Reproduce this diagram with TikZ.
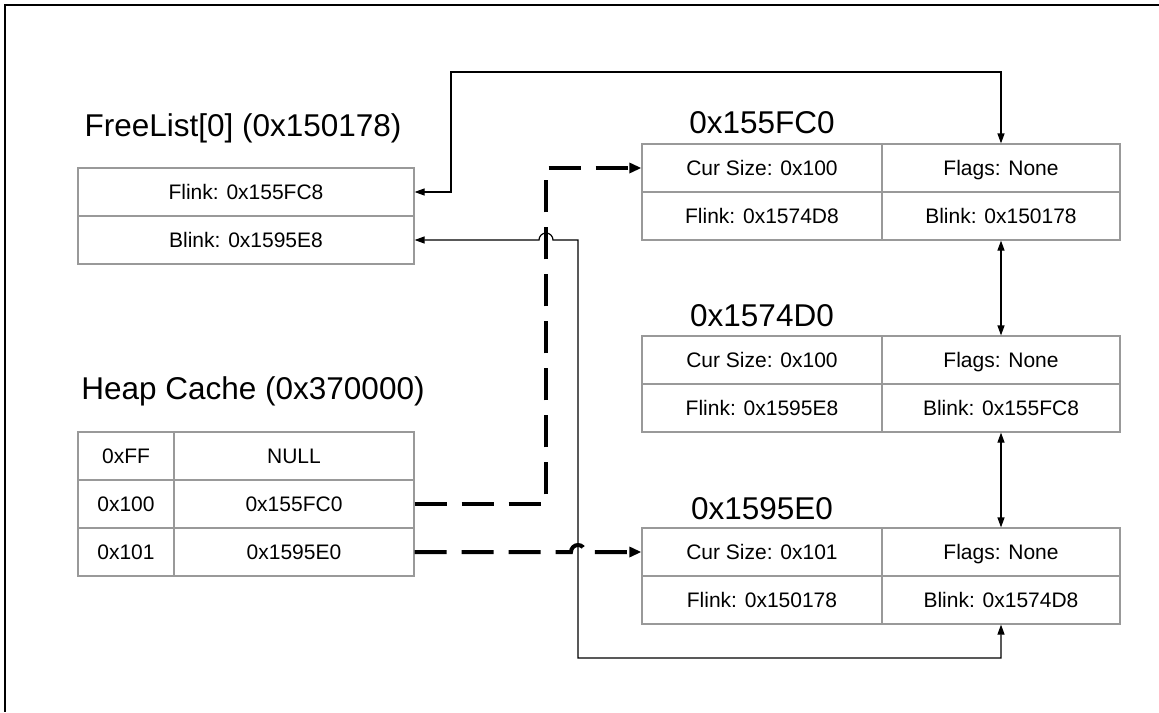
\documentclass[tikz,border=0pt]{standalone}
\usepackage{fontspec}
\setmainfont{Liberation Sans}
\usetikzlibrary{arrows.meta}

\tikzset{
  cell/.style={draw=gray!80, line width=1.2pt, inner sep=0pt, minimum height=48pt,
    text height=15pt, text depth=0pt, font=\fontsize{21}{24}\selectfont},
  heading/.style={inner sep=0pt, text height=22.5pt, text depth=0pt,
    font=\fontsize{31.5}{36}\selectfont},
  link/.style={line width=1.2pt, <->},
  cacheline/.style={line width=4pt, dash pattern=on 32pt off 15pt, ->,
    >={Triangle[length=12pt,width=10pt]}},
}

\begin{document}
\begin{tikzpicture}[x=1pt,y=-1pt,>={Triangle[length=10pt,width=7pt]}]
  \useasboundingbox (0,0) rectangle (1159,712);
  \draw[line width=2.5pt] (1159,5) -- (5,5) -- (5,712);

  \node[heading] (fltitle) at (243,125) {FreeList[0] (0x150178)};
  \node[cell, minimum width=336pt] (flink) at (246,192) {Flink: 0x155FC8};
  \node[cell, minimum width=336pt] (blink) at (246,240) {Blink: 0x1595E8};

  \node[heading] (hctitle) at (253,388) {Heap Cache (0x370000)};
  \node[cell, minimum width=96pt] (hff) at (126,456) {0xFF};
  \node[cell, minimum width=240pt] (hffv) at (294,456) {NULL};
  \node[cell, minimum width=96pt] (h100) at (126,504) {0x100};
  \node[cell, minimum width=240pt] (h100v) at (294,504) {0x155FC0};
  \node[cell, minimum width=96pt] (h101) at (126,552) {0x101};
  \node[cell, minimum width=240pt] (h101v) at (294,552) {0x1595E0};

  \node[heading] (atitle) at (762,122) {0x155FC0};
  \node[cell, minimum width=240pt] (asize) at (762,168) {Cur Size: 0x100};
  \node[cell, minimum width=238pt] (aflags) at (1001,168) {Flags: None};
  \node[cell, minimum width=240pt] (aflink) at (762,216) {Flink: 0x1574D8};
  \node[cell, minimum width=238pt] (ablink) at (1001,216) {Blink: 0x150178};

  \node[heading] (btitle) at (762,315) {0x1574D0};
  \node[cell, minimum width=240pt] (bsize) at (762,360) {Cur Size: 0x100};
  \node[cell, minimum width=238pt] (bflags) at (1001,360) {Flags: None};
  \node[cell, minimum width=240pt] (bflink) at (762,408) {Flink: 0x1595E8};
  \node[cell, minimum width=238pt] (bblink) at (1001,408) {Blink: 0x155FC8};

  \node[heading] (ctitle) at (762,508) {0x1595E0};
  \node[cell, minimum width=240pt] (csize) at (762,552) {Cur Size: 0x101};
  \node[cell, minimum width=238pt] (cflags) at (1001,552) {Flags: None};
  \node[cell, minimum width=240pt] (cflink) at (762,600) {Flink: 0x150178};
  \node[cell, minimum width=238pt] (cblink) at (1001,600) {Blink: 0x1574D8};

  \coordinate (top) at (451,72);
  \coordinate (hop1) at (539,240);
  \coordinate (down) at (578,240);
  \coordinate (bottom) at (578,658);
  \coordinate (turn) at (546,168);
  \coordinate (hop2) at (571,552);

  \draw[link] (flink.east) -| (top) -| (aflags.north);
  \draw[link] (blink.east) -- (hop1) arc[start angle=180,end angle=0,radius=7pt]
    -- (down) -- (bottom) -| (cblink.south);
  \draw[link] (ablink.south) -- (bflags.north);
  \draw[link] (bblink.south) -- (cflags.north);

  \draw[cacheline] (h100v.east) -| (turn) -- (asize.west);
  \draw[cacheline] (h101v.east) -- (hop2) arc[start angle=180,end angle=0,radius=7pt]
    -- (csize.west);
\end{tikzpicture}
\end{document}
